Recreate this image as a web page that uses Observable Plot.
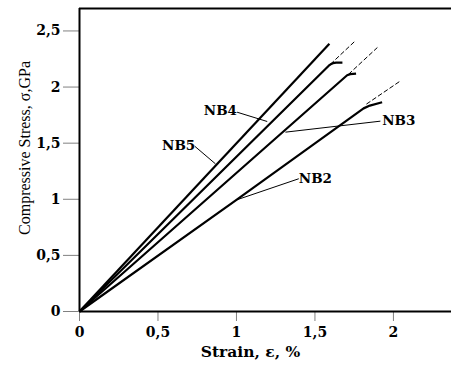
<!DOCTYPE html>
<html>
<head>
<meta charset="utf-8">
<script src="https://cdn.jsdelivr.net/npm/d3@7"></script>
<script src="https://cdn.jsdelivr.net/npm/@observablehq/plot@0.6"></script>
<style>
  body { margin: 0; background: #fff; }
  svg { display: block; }
</style>
</head>
<body>
<div id="chart"></div>
<script>
// ---- data ----
const xTicks = [0, 0.5, 1, 1.5, 2];
const yTicks = [0, 0.5, 1, 1.5, 2, 2.5];
const xLabel = "Strain, ε, %";
const yLabel = "Compressive Stress, σ,GPa";

// solid curves (strain %, stress GPa)
const nb5Strain = [0, 1.592];
const nb5Stress = [0, 2.387];
const nb4Strain = [0, 1.588, 1.6, 1.615, 1.635, 1.675];
const nb4Stress = [0, 2.19, 2.203, 2.213, 2.218, 2.218];
const nb3Strain = [0, 1.705, 1.725, 1.762];
const nb3Stress = [0, 2.105, 2.115, 2.12];
const nb2Strain = [0, 1.0, 1.81, 1.85, 1.928];
const nb2Stress = [0, 0.995, 1.81, 1.835, 1.865];

// dashed extrapolations
const nb4DashStrain = [1.6, 1.752];
const nb4DashStress = [2.205, 2.405];
const nb3DashStrain = [1.715, 1.896];
const nb3DashStress = [2.115, 2.35];
const nb2DashStrain = [1.83, 2.045];
const nb2DashStress = [1.85, 2.055];

// labels and leader lines
const labelNames = ["NB4", "NB5", "NB3", "NB2"];
const labelX = [0.898, 0.632, 2.034, 1.503];
const labelY = [1.791, 1.479, 1.696, 1.183];
const leadFromX = [1.004, 0.734, 1.917, 1.397];
const leadFromY = [1.776, 1.473, 1.696, 1.183];
const leadToX = [1.196, 0.866, 1.312, 1.004];
const leadToY = [1.693, 1.316, 1.598, 0.996];

const xMax = 2.37, yMax = 2.7;

const pts = (xs, ys) => xs.map((x, i) => ({x, y: ys[i]}));
const labels = labelNames.map((name, i) => ({
  name, x: labelX[i], y: labelY[i],
  x1: leadFromX[i], y1: leadFromY[i], x2: leadToX[i], y2: leadToY[i]
}));

const fmt = d => String(d).replace(".", ",");
const boldFont = "DejaVu Serif";

const solid = [
  pts(nb5Strain, nb5Stress), pts(nb4Strain, nb4Stress),
  pts(nb3Strain, nb3Stress), pts(nb2Strain, nb2Stress)
];
const dashed = [
  pts(nb4DashStrain, nb4DashStress), pts(nb3DashStrain, nb3DashStress),
  pts(nb2DashStrain, nb2DashStress)
];

const chart = Plot.plot({
  width: 451,
  height: 365,
  marginLeft: 79,
  marginRight: 0,
  marginTop: 8,
  marginBottom: 54,
  x: {domain: [0, xMax]},
  y: {domain: [0, yMax]},
  style: {background: "#fff", color: "#000", overflow: "visible"},
  marks: [
    Plot.axisY({ticks: yTicks, tickFormat: fmt, tickSize: 16, tickPadding: 3,
      stroke: "#808080", fill: "#000", fontSize: 14, fontWeight: "bold",
      fontFamily: boldFont, label: null}),
    Plot.axisX({ticks: xTicks, tickFormat: fmt, tickSize: 10, tickPadding: 6,
      stroke: "#808080", fill: "#000", fontSize: 14, fontWeight: "bold",
      fontFamily: boldFont, label: null}),
    Plot.ruleX([0], {stroke: "#000", strokeWidth: 2}),
    Plot.ruleY([0], {stroke: "#000", strokeWidth: 2}),
    Plot.ruleY([yMax], {stroke: "#000", strokeWidth: 2}),
    ...solid.map(d => Plot.line(d, {x: "x", y: "y", stroke: "#000", strokeWidth: 2.2,
      strokeLinejoin: "round", strokeLinecap: "butt"})),
    ...dashed.map(d => Plot.line(d, {x: "x", y: "y", stroke: "#000", strokeWidth: 1,
      strokeDasharray: "4,3"})),
    Plot.link(labels, {x1: "x1", y1: "y1", x2: "x2", y2: "y2", stroke: "#000", strokeWidth: 1}),
    Plot.text(labels, {x: "x", y: "y", text: "name", fontSize: 13.5, fontWeight: "bold",
      fontFamily: boldFont, fill: "#000"}),
    Plot.text([xLabel], {frameAnchor: "bottom", textAnchor: "middle", dx: -15, dy: 45,
      fontSize: 15.5, fontWeight: "bold", fontFamily: boldFont, fill: "#000"}),
    Plot.text([yLabel], {frameAnchor: "left", textAnchor: "middle", rotate: -90,
      dx: -55, dy: -12, fontSize: 16, fontFamily: "Liberation Serif", fill: "#000"})
  ]
});
document.getElementById("chart").appendChild(chart);
</script>
</body>
</html>
